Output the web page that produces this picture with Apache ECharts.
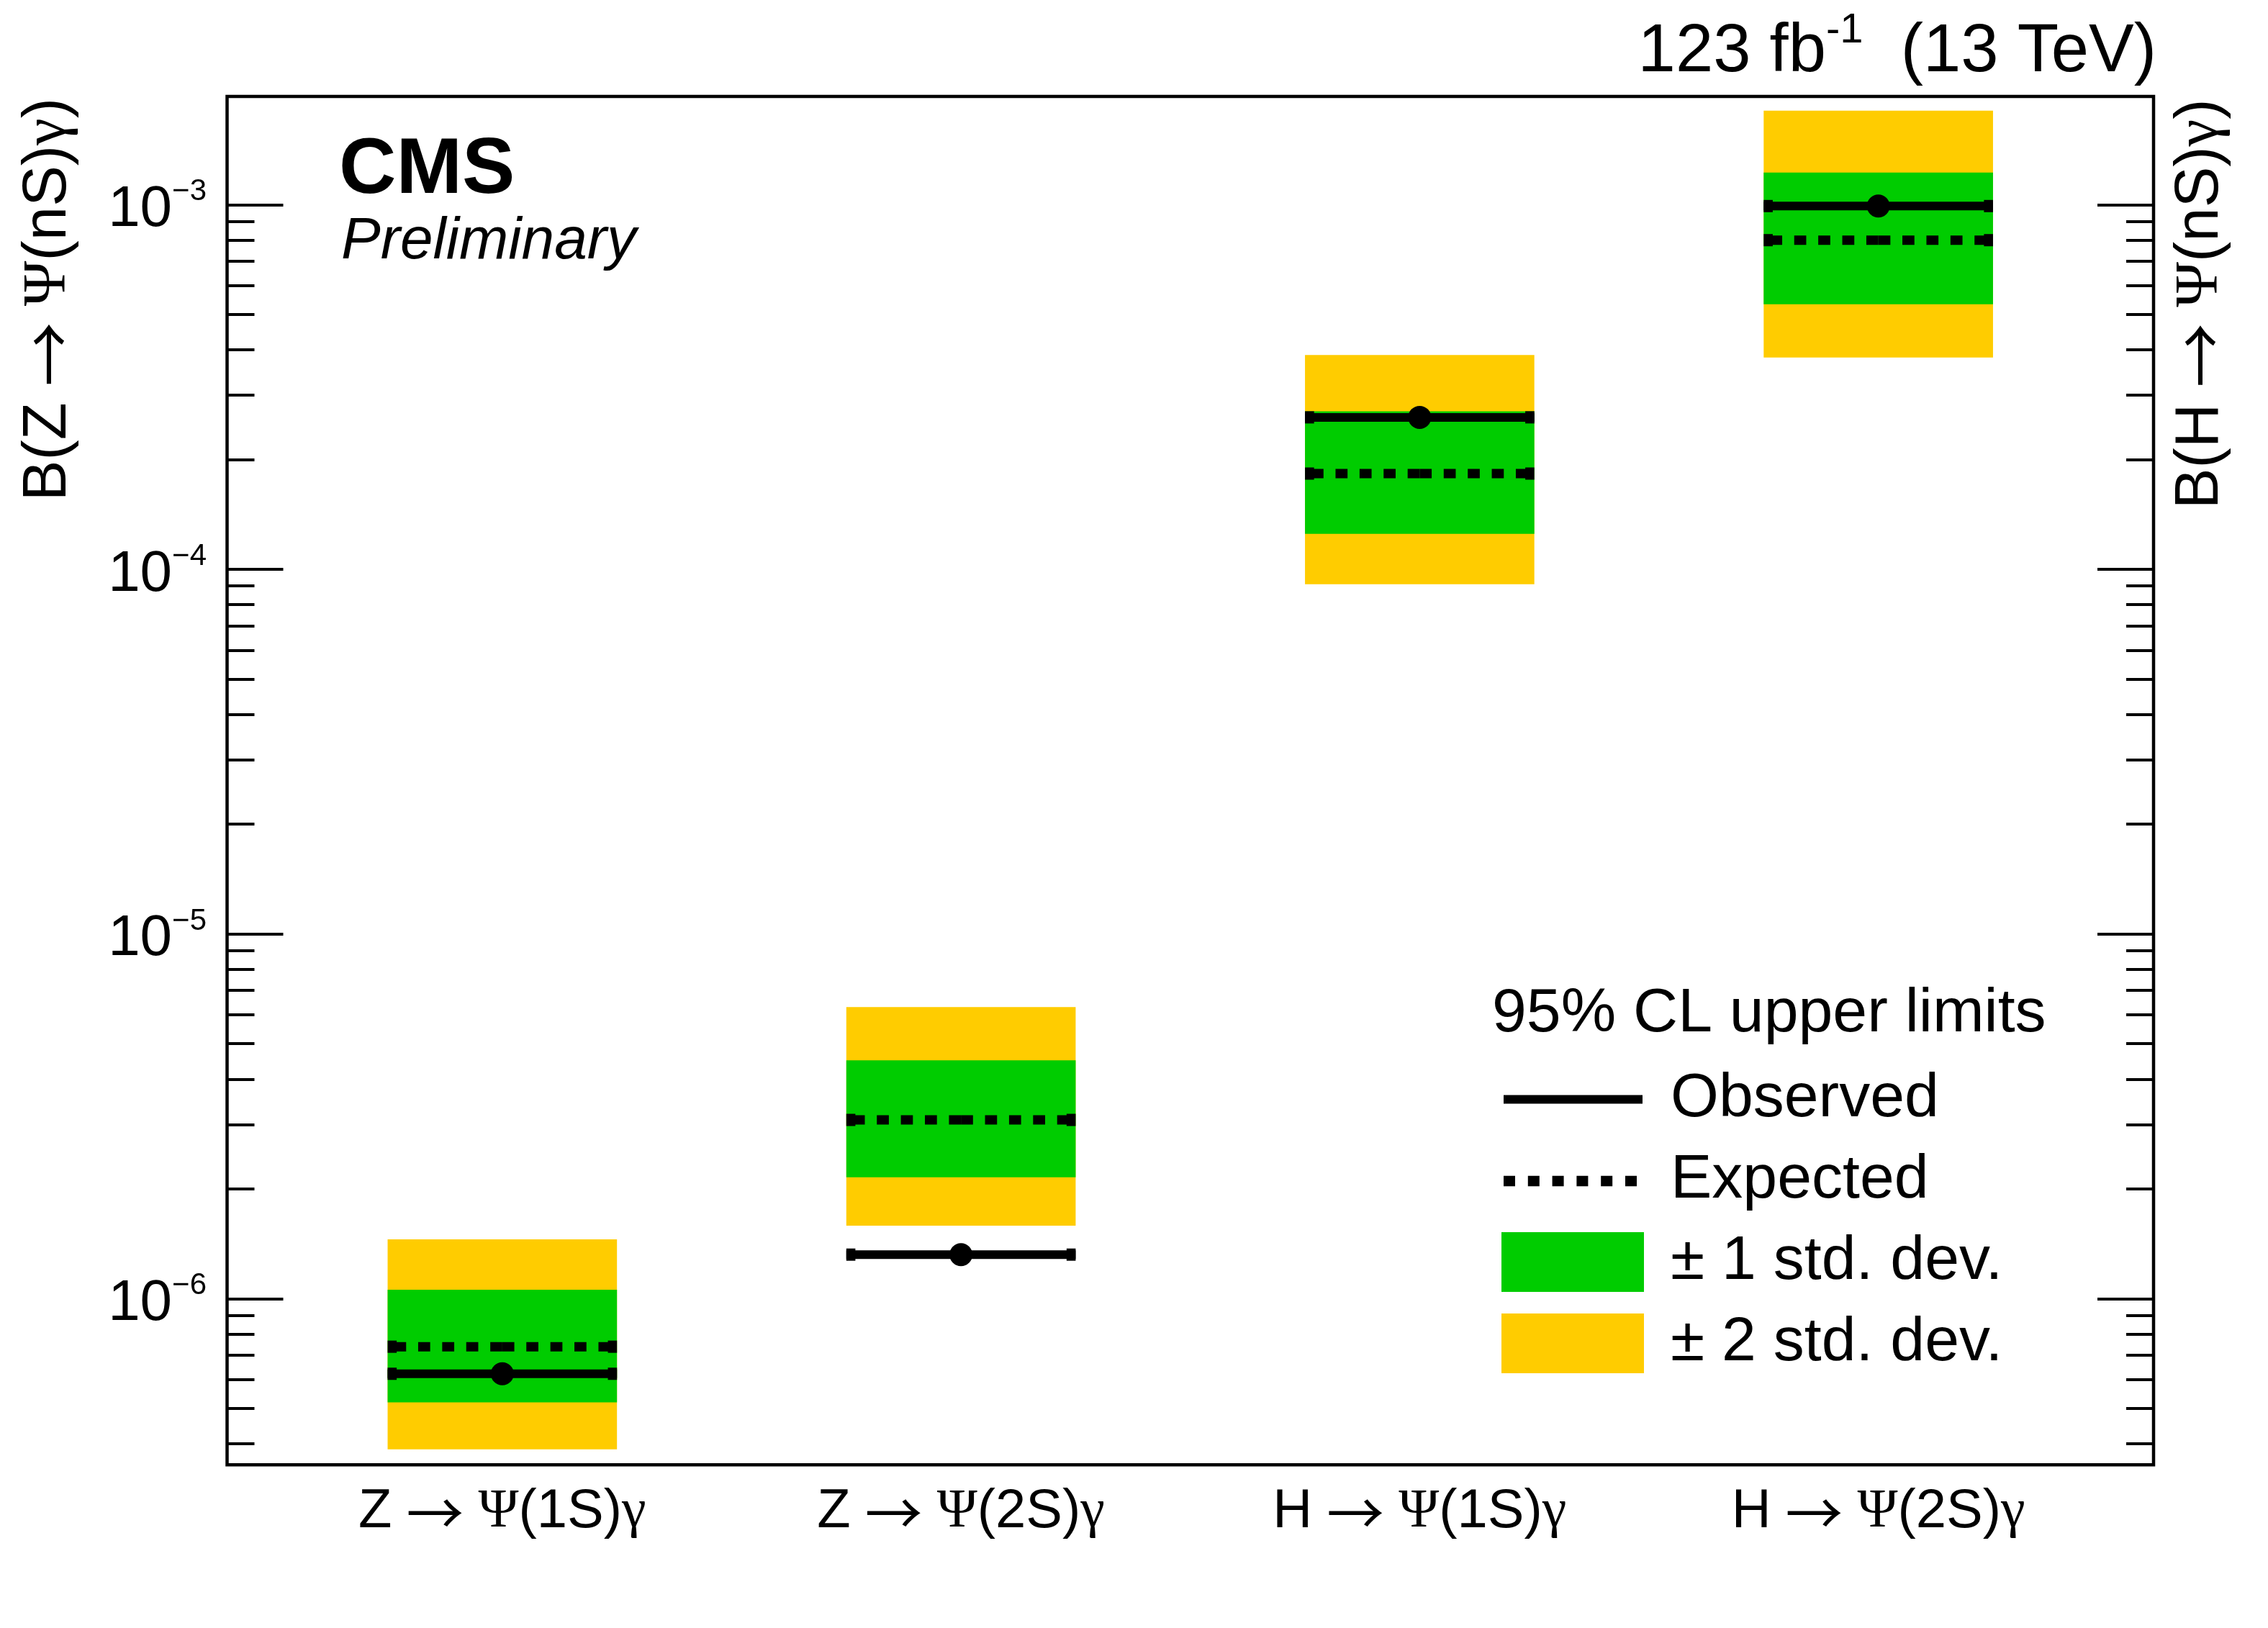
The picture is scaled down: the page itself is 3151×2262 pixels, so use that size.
<!DOCTYPE html>
<html><head><meta charset="utf-8">
<script src="https://cdn.jsdelivr.net/npm/echarts@6/dist/echarts.min.js"></script>
<style>html,body{margin:0;padding:0;background:#fff}#chart{width:3151px;height:2262px}</style>
</head><body><div id="chart"></div>
<script>
// ---------------- data ----------------
const categories = ['Z → Ψ(1S)γ', 'Z → Ψ(2S)γ', 'H → Ψ(1S)γ', 'H → Ψ(2S)γ'];
const categoryPositions = [0, 1, 2, 3];
const observed  = [6.22e-7, 1.32e-6, 2.61e-4, 9.91e-4];
const expected  = [7.38e-7, 3.09e-6, 1.83e-4, 7.99e-4];
const band2Low  = [3.86e-7, 1.585e-6, 9.1e-5, 3.81e-4];
const band1Low  = [5.19e-7, 2.15e-6, 1.25e-4, 5.33e-4];
const band1High = [1.057e-6, 4.50e-6, 2.71e-4, 1.225e-3];
const band2High = [1.454e-6, 6.30e-6, 3.87e-4, 1.81e-3];
const yMajorTicks = [1e-6, 1e-5, 1e-4, 1e-3];
const yMajorTickExponents = ['−6', '−5', '−4', '−3'];
const yMinorTicks = [4e-7, 5e-7, 6e-7, 7e-7, 8e-7, 9e-7,
  2e-6, 3e-6, 4e-6, 5e-6, 6e-6, 7e-6, 8e-6, 9e-6,
  2e-5, 3e-5, 4e-5, 5e-5, 6e-5, 7e-5, 8e-5, 9e-5,
  2e-4, 3e-4, 4e-4, 5e-4, 6e-4, 7e-4, 8e-4, 9e-4];
const yMin = 3.5e-7, yMax = 1.98e-3;
const xMin = -0.6, xMax = 3.6;
const leftAxisTitle = 'B(Z → Ψ(nS)γ)';
const rightAxisTitle = 'B(H → Ψ(nS)γ)';
const legendNames = ['Observed', 'Expected', '± 1 std. dev.', '± 2 std. dev.'];

// ---------------- styling helpers ----------------
const SANS = "'Liberation Sans', Arial, Helvetica, sans-serif";
const SERIF = "'Liberation Serif', 'DejaVu Serif', serif";
const ARROWFONT = "'Noto Sans CJK JP', 'Noto Sans CJK SC', 'DejaVu Sans', sans-serif";
const HALF = 0.25;
const YELLOW = '#FFCC00', GREEN = '#00CC00';

function toRich(s) {
  let out = '', buf = '';
  const flush = () => { if (buf) out += '{t|' + buf + '}'; buf = ''; };
  const chars = Array.from(s);
  for (let i = 0; i < chars.length; i++) {
    const ch = chars[i];
    if (ch === 'Ψ' || ch === 'γ') { flush(); out += '{g|' + ch + '}'; }
    else if (ch === '→') { flush(); out += '{a|→}'; }
    else if (ch === ' ' && (chars[i + 1] === '→' || chars[i - 1] === '→')) { flush(); out += '{sp| }'; }
    else buf += ch;
  }
  flush();
  return out;
}
function richFor(size) {
  return {
    t: {fontFamily: SANS, fontSize: size, lineHeight: size, color: '#000'},
    g: {fontFamily: SERIF, fontSize: size, lineHeight: size, color: '#000'},
    a: {fontFamily: ARROWFONT, fontSize: size * 1.05, lineHeight: size, color: '#000'},
    sp: {fontFamily: SANS, fontSize: size * 0.95, lineHeight: size, color: '#000'}
  };
}

function bandSeries(name, color, lo, hi) {
  return {
    type: 'custom', name: name, coordinateSystem: 'cartesian2d',
    xAxisIndex: 0, yAxisIndex: 0, silent: true,
    itemStyle: {color: color},
    encode: {x: 0, y: [1, 2]},
    data: categoryPositions.map((x, i) => [x, lo[i], hi[i]]),
    renderItem: function (params, api) {
      const x = api.value(0);
      const p1 = api.coord([x - HALF, api.value(2)]);
      const p2 = api.coord([x + HALF, api.value(1)]);
      return {type: 'rect', shape: {x: p1[0], y: p1[1], width: p2[0] - p1[0], height: p2[1] - p1[1]},
        style: {fill: color}};
    }
  };
}

function lineSeries(name, values, dotted) {
  return {
    type: 'custom', name: name, coordinateSystem: 'cartesian2d',
    xAxisIndex: 0, yAxisIndex: 0, silent: true,
    itemStyle: {color: '#000'},
    encode: {x: 0, y: 1},
    data: categoryPositions.map((x, i) => [x, values[i]]),
    z: dotted ? 3 : 4,
    renderItem: function (params, api) {
      const x = api.value(0), v = api.value(1);
      const L = api.coord([x - HALF, v]);
      const R = api.coord([x + HALF, v]);
      const C = api.coord([x, v]);
      const capW = 12.6, capH = 17;
      const children = [];
      if (dotted) {
        const lw = 13;
        children.push({type: 'line', shape: {x1: C[0], y1: C[1], x2: L[0], y2: L[1]},
          style: {stroke: '#000', lineWidth: lw, lineDash: [16.7, 16.7], lineCap: 'butt'}});
        children.push({type: 'line', shape: {x1: C[0], y1: C[1], x2: R[0], y2: R[1]},
          style: {stroke: '#000', lineWidth: lw, lineDash: [16.7, 16.7], lineCap: 'butt'}});
      } else {
        const lw = 12;
        children.push({type: 'rect', shape: {x: L[0], y: L[1] - lw / 2, width: R[0] - L[0], height: lw},
          style: {fill: '#000'}});
        children.push({type: 'circle', shape: {cx: C[0], cy: C[1], r: 16}, style: {fill: '#000'}});
      }
      children.push({type: 'rect', shape: {x: L[0], y: L[1] - capH / 2, width: capW, height: capH}, style: {fill: '#000'}});
      children.push({type: 'rect', shape: {x: R[0] - capW, y: R[1] - capH / 2, width: capW, height: capH}, style: {fill: '#000'}});
      return {type: 'group', children: children};
    }
  };
}

// legend icons in a 198 x 83 box
const cornerPts = 'M0,0L0.05,0L0,0.05Z M198,83L197.95,83L198,82.95Z ';
const observedIcon = 'path://' + cornerPts + 'M3,35.5L196,35.5L196,47.5L3,47.5Z';
let dots = '';
for (let k = 0; k < 6; k++) {
  const x0 = 3 + k * 33.8;
  dots += 'M' + x0 + ',34.75L' + (x0 + 16) + ',34.75L' + (x0 + 16) + ',49.25L' + x0 + ',49.25Z ';
}
const expectedIcon = 'path://' + cornerPts + dots;

function yAxisBase(position, ticks, len, extra) {
  return Object.assign({
    type: 'log', logBase: 10, min: yMin, max: yMax, position: position,
    axisLine: {show: false, onZero: false},
    splitLine: {show: false},
    axisTick: {show: true, inside: true, length: len, customValues: ticks,
      lineStyle: {color: '#000', width: 4}},
    axisLabel: {show: false}
  }, extra || {});
}

const chart = echarts.init(document.getElementById('chart'), null, {renderer: 'canvas'});
const option = {
  animation: false,
  backgroundColor: '#fff',
  textStyle: {fontFamily: SANS, color: '#000'},
  grid: {left: 315.5, right: 159, top: 134, bottom: 226.7, show: true,
    borderColor: '#000', borderWidth: 4.5, backgroundColor: 'transparent',
    containLabel: false, outerBoundsMode: 'none'},
  title: [
    {text: 'CMS', left: 471, top: 183, padding: 0,
      textStyle: {fontFamily: SANS, fontWeight: 'bold', fontSize: 110, lineHeight: 110, color: '#000'}},
    {text: 'Preliminary', left: 474, top: 295, padding: 0,
      textStyle: {fontFamily: SANS, fontStyle: 'italic', fontWeight: 'normal', fontSize: 82, lineHeight: 82, color: '#000'}},
    {text: '{a|123 fb}{s|-1}{a|  (13 TeV)}', right: 155, top: 14, padding: 0,
      textStyle: {fontFamily: SANS, fontWeight: 'normal', color: '#000', rich: {
        a: {fontFamily: SANS, fontSize: 94, height: 94, lineHeight: 106, verticalAlign: 'bottom', padding: [12, 0, 0, 0], color: '#000'},
        s: {fontFamily: SANS, fontSize: 58, height: 58, lineHeight: 58, verticalAlign: 'top', color: '#000'}
      }}},
    {text: '95% CL upper limits', left: 2073, top: 1366, padding: 0,
      textStyle: {fontFamily: SANS, fontWeight: 'normal', fontSize: 86, lineHeight: 86, color: '#000'}}
  ],
  legend: {
    orient: 'vertical', left: 2086, top: 1484.5, padding: 0,
    itemWidth: 198, itemHeight: 83, itemGap: 27, selectedMode: false,
    textStyle: {fontFamily: SANS, fontSize: 86, lineHeight: 70, color: '#000', padding: [0, 0, 12, 32]},
    data: [
      {name: legendNames[0], icon: observedIcon},
      {name: legendNames[1], icon: expectedIcon},
      {name: legendNames[2], icon: 'rect'},
      {name: legendNames[3], icon: 'rect'}
    ]
  },
  xAxis: [{
    type: 'value', min: xMin, max: xMax, position: 'bottom',
    axisLine: {show: false, onZero: false}, splitLine: {show: false},
    axisTick: {show: false},
    axisLabel: {show: true, customValues: categoryPositions, margin: 28,
      formatter: function (v) { return toRich(categories[Math.round(v)]); },
      rich: richFor(76)}
  }],
  yAxis: [
    yAxisBase('left', yMajorTicks, 78, {
      axisLabel: {show: true, customValues: yMajorTicks, margin: 28.5,
        formatter: function (v) {
          const i = yMajorTicks.findIndex(t => Math.abs(Math.log10(t) - Math.log10(v)) < 1e-6);
          return '{b|10}{s|' + yMajorTickExponents[i] + '}';
        },
        rich: {
          b: {fontFamily: SANS, fontSize: 80, height: 80, lineHeight: 95, verticalAlign: 'bottom', padding: [15, 0, 0, 0], color: '#000'},
          s: {fontFamily: SANS, fontSize: 42, height: 42, lineHeight: 51, verticalAlign: 'top', padding: [9, 0, 0, 0], color: '#000'}
        }},
      name: toRich(leftAxisTitle), nameLocation: 'end', nameGap: -2, nameRotate: 90, nameMoveOverlap: false,
      nameTextStyle: {align: 'right', verticalAlign: 'bottom', padding: [0, 0, 205, 0],
        fontFamily: SANS, fontSize: 85, lineHeight: 85, color: '#000', rich: richFor(85)}
    }),
    yAxisBase('left', yMinorTicks, 38),
    yAxisBase('right', yMajorTicks, 78, {
      name: toRich(rightAxisTitle), nameLocation: 'end', nameGap: -3.5, nameRotate: 90, nameMoveOverlap: false,
      nameTextStyle: {align: 'right', verticalAlign: 'top', padding: [23, 0, 0, 0],
        fontFamily: SANS, fontSize: 85, lineHeight: 85, color: '#000', rich: richFor(85)}
    }),
    yAxisBase('right', yMinorTicks, 38)
  ],
  series: [
    bandSeries(legendNames[3], YELLOW, band2Low, band2High),
    bandSeries(legendNames[2], GREEN, band1Low, band1High),
    lineSeries(legendNames[1], expected, true),
    lineSeries(legendNames[0], observed, false)
  ]
};
chart.setOption(option);
</script></body></html>
